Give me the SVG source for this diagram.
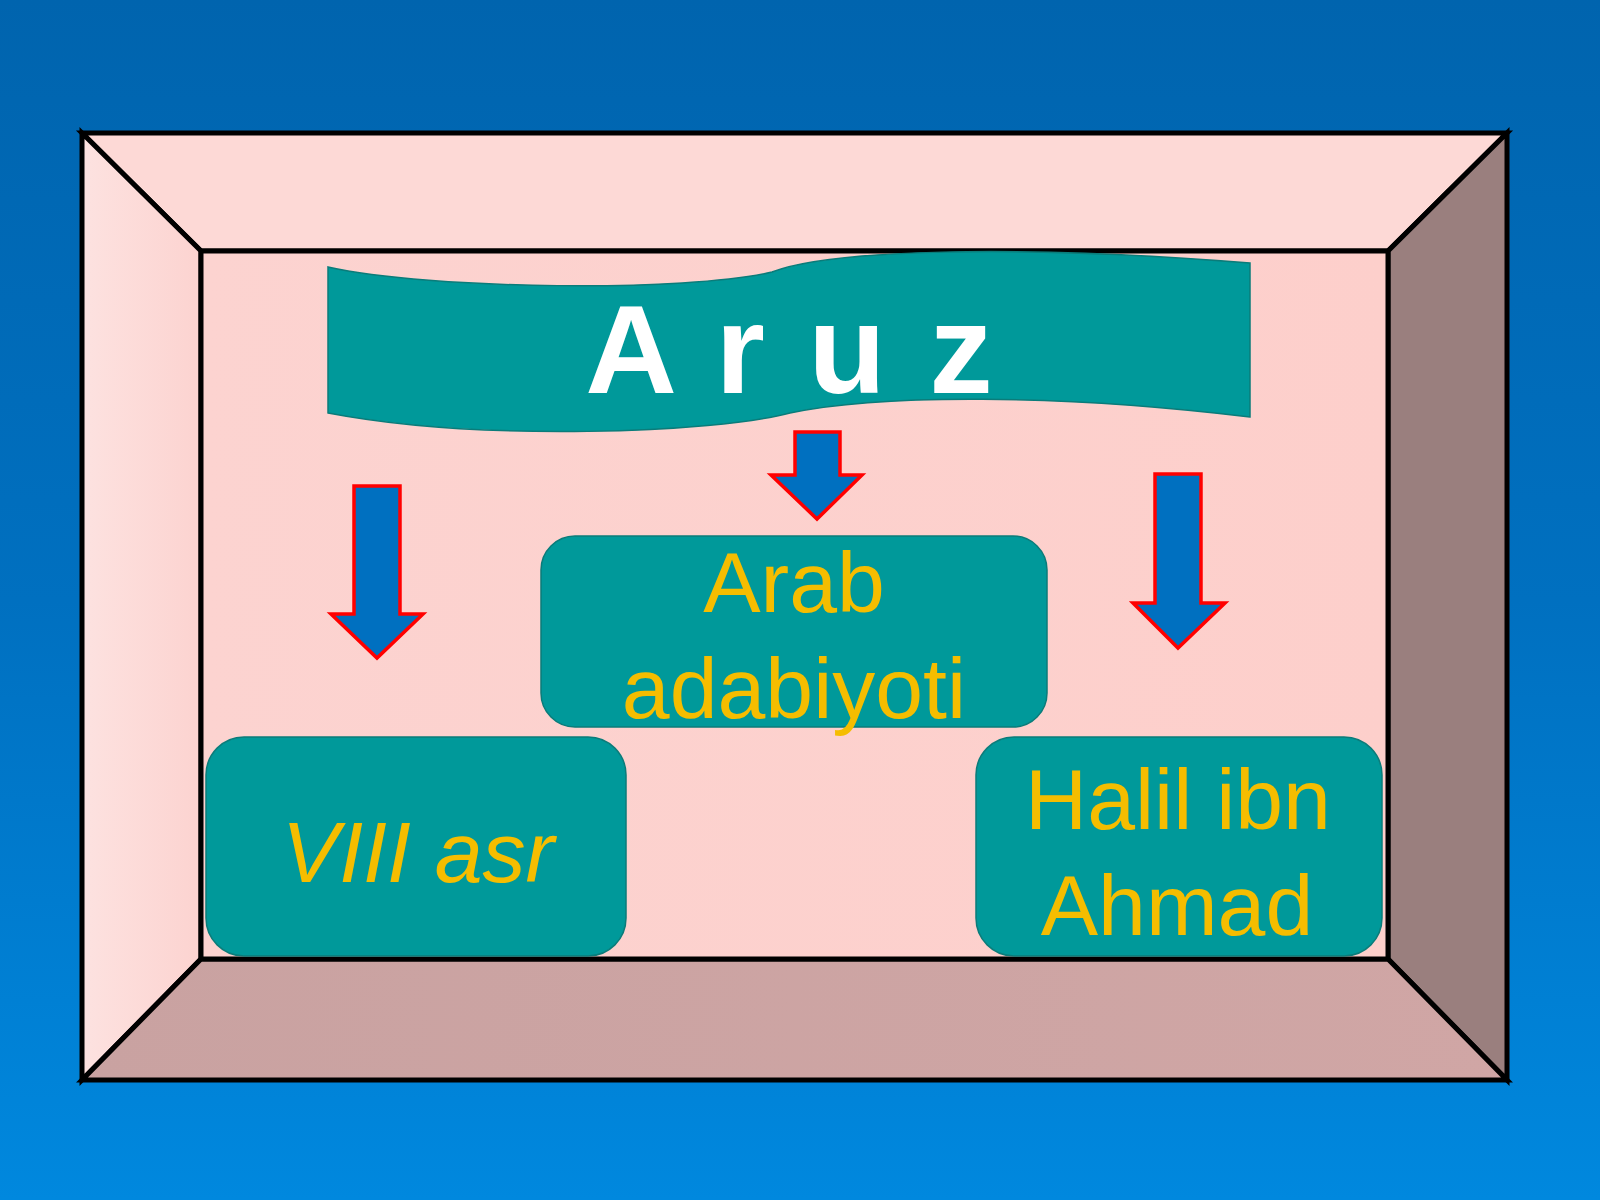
<svg xmlns="http://www.w3.org/2000/svg" width="1600" height="1200" viewBox="0 0 1600 1200">
  <defs>
    <linearGradient id="bg" x1="0" y1="0" x2="0" y2="1">
      <stop offset="0" stop-color="#0064ae"/>
      <stop offset="0.5" stop-color="#0070c0"/>
      <stop offset="1" stop-color="#0088de"/>
    </linearGradient>
    <linearGradient id="leftPanel" x1="0" y1="0" x2="1" y2="0">
      <stop offset="0" stop-color="#fde2e0"/>
      <stop offset="1" stop-color="#fcd3d0"/>
    </linearGradient>
    <linearGradient id="inner" x1="0" y1="0" x2="1" y2="0">
      <stop offset="0" stop-color="#fcd3d0"/>
      <stop offset="1" stop-color="#fdcfcb"/>
    </linearGradient>
    <linearGradient id="bottomPanel" x1="0" y1="0" x2="1" y2="0">
      <stop offset="0" stop-color="#c9a2a1"/>
      <stop offset="1" stop-color="#d0a6a5"/>
    </linearGradient>
    <style>
      .frame { stroke: #000; stroke-width: 5; stroke-linejoin: miter; }
      .teal { fill: #00999a; stroke: #0a7c7a; stroke-width: 1.5; }
      .arrow { fill: #0070c0; stroke: #ff0000; stroke-width: 3.5; stroke-linejoin: miter; }
      .label { font-family: "Liberation Sans", Arial, sans-serif; fill: #f5bd00; font-size: 86px; text-anchor: middle; }
      .title { font-family: "Liberation Sans", Arial, sans-serif; fill: #ffffff; font-size: 127px; font-weight: bold; text-anchor: middle; letter-spacing: 4px; }
    </style>
  </defs>

  <rect x="0" y="0" width="1600" height="1200" fill="url(#bg)"/>

  <g id="frame">
    <polygon class="frame" points="82,133 1507,133 1388,251 201,251" fill="#fdd9d6"/>
    <polygon class="frame" points="82,133 201,251 201,959 82,1080" fill="url(#leftPanel)"/>
    <polygon class="frame" points="1507,133 1507,1080 1388,959 1388,251" fill="#9a7f7e"/>
    <polygon class="frame" points="82,1080 201,959 1388,959 1507,1080" fill="url(#bottomPanel)"/>
    <rect class="frame" x="201" y="251" width="1187" height="708" fill="url(#inner)"/>
  </g>

  <g id="node-aruz">
    <path class="teal" d="M328,267 C430,290 690,292 772,272 C830,250 1010,244 1250,263 L1250,417 C1060,394 880,394 790,413 C715,433 480,442 328,413 Z"/>
    <text class="title" x="791" y="393">A r u z</text>
  </g>

  <g id="connectors">
    <polygon class="arrow" points="354,486 400,486 400,614 423,614 377,658 331,614 354,614"/>
    <polygon class="arrow" points="795,432 840,432 840,475 862,475 817,519 771,475 795,475"/>
    <polygon class="arrow" points="1155,474 1201,474 1201,603 1225,603 1178,648 1133,603 1155,603"/>
  </g>

  <g id="node-arab">
    <rect class="teal" x="541" y="536" width="506" height="191" rx="34" ry="34"/>
    <text class="label" x="794" y="612">Arab</text>
    <text class="label" x="794" y="718">adabiyoti</text>
  </g>

  <g id="node-viii">
    <rect class="teal" x="206" y="737" width="420" height="219" rx="38" ry="38"/>
    <text class="label" x="418" y="882" font-style="italic">VIII asr</text>
  </g>

  <g id="node-halil">
    <rect class="teal" x="976" y="737" width="406" height="219" rx="38" ry="38"/>
    <text class="label" x="1178" y="829">Halil ibn</text>
    <text class="label" x="1177" y="935">Ahmad</text>
  </g>
</svg>
